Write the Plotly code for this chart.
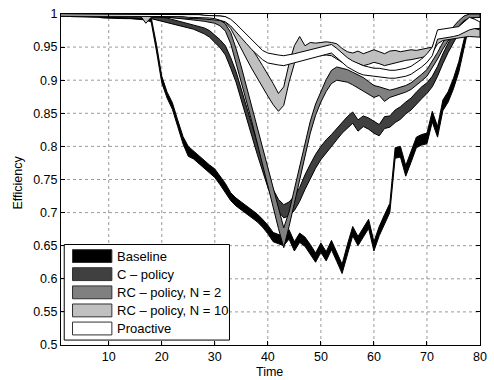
import plotly.graph_objects as go

# Time steps
time = list(range(1, 81))

# Efficiency bands (lower / upper bound) per policy
baseline_lo = [0.997, 0.997, 0.996, 0.996, 0.996, 0.995, 0.995, 0.995, 0.994, 0.994,
               0.994, 0.993, 0.993, 0.993, 0.992, 0.992, 0.991, 0.988, 0.944, 0.896,
               0.873, 0.856, 0.830, 0.804, 0.785, 0.781, 0.773, 0.766, 0.760, 0.753,
               0.742, 0.731, 0.718, 0.710, 0.704, 0.698, 0.692, 0.686, 0.678, 0.668,
               0.656, 0.653, 0.650, 0.660, 0.642, 0.655, 0.649, 0.638, 0.625, 0.640,
               0.627, 0.644, 0.626, 0.608, 0.638, 0.665, 0.650, 0.663, 0.676, 0.642,
               0.665, 0.683, 0.700, 0.782, 0.784, 0.755, 0.776, 0.798, 0.802, 0.804,
               0.837, 0.814, 0.854, 0.867, 0.887, 0.912, 0.948, 0.985, 0.995, 0.995]
baseline_hi = [1.000, 1.000, 0.999, 0.999, 0.999, 0.999, 0.998, 0.998, 0.998, 0.998,
               0.997, 0.997, 0.997, 0.997, 0.996, 0.996, 0.996, 0.995, 0.954, 0.906,
               0.882, 0.866, 0.840, 0.815, 0.800, 0.793, 0.785, 0.778, 0.772, 0.766,
               0.755, 0.744, 0.730, 0.722, 0.716, 0.710, 0.704, 0.698, 0.690, 0.681,
               0.670, 0.667, 0.664, 0.674, 0.656, 0.669, 0.663, 0.652, 0.639, 0.654,
               0.641, 0.658, 0.640, 0.622, 0.652, 0.679, 0.664, 0.677, 0.690, 0.656,
               0.679, 0.697, 0.714, 0.798, 0.800, 0.771, 0.792, 0.814, 0.818, 0.820,
               0.853, 0.830, 0.870, 0.883, 0.903, 0.928, 0.962, 0.995, 1.000, 1.000]

c_policy_lo = [0.997, 0.997, 0.997, 0.997, 0.996, 0.996, 0.996, 0.996, 0.995, 0.995,
               0.995, 0.995, 0.994, 0.994, 0.994, 0.994, 0.993, 0.993, 0.992, 0.990,
               0.988, 0.985, 0.983, 0.981, 0.979, 0.977, 0.974, 0.970, 0.965, 0.957,
               0.949, 0.938, 0.918, 0.897, 0.870, 0.843, 0.815, 0.788, 0.762, 0.738,
               0.718, 0.702, 0.692, 0.695, 0.703, 0.717, 0.735, 0.752, 0.767, 0.780,
               0.790, 0.800, 0.810, 0.820, 0.828, 0.835, 0.823, 0.830, 0.826, 0.820,
               0.816, 0.827, 0.829, 0.836, 0.841, 0.849, 0.855, 0.864, 0.872, 0.880,
               0.890, 0.906, 0.925, 0.942, 0.957, 0.971, 0.985, 0.994, 0.996, 0.996]
c_policy_hi = [1.000, 1.000, 1.000, 1.000, 1.000, 1.000, 0.999, 0.999, 0.999, 0.999,
               0.999, 0.999, 0.999, 0.998, 0.998, 0.998, 0.998, 0.998, 0.997, 0.996,
               0.994, 0.991, 0.989, 0.987, 0.985, 0.984, 0.982, 0.979, 0.975, 0.968,
               0.961, 0.952, 0.934, 0.913, 0.886, 0.860, 0.832, 0.805, 0.779, 0.755,
               0.735, 0.720, 0.712, 0.716, 0.725, 0.738, 0.757, 0.773, 0.788, 0.800,
               0.810, 0.818, 0.827, 0.835, 0.845, 0.852, 0.840, 0.846, 0.843, 0.838,
               0.833, 0.845, 0.846, 0.855, 0.860, 0.867, 0.873, 0.882, 0.890, 0.896,
               0.906, 0.921, 0.940, 0.956, 0.970, 0.983, 0.995, 1.000, 1.000, 1.000]

rc2_lo = [0.998, 0.998, 0.998, 0.998, 0.998, 0.998, 0.998, 0.998, 0.998, 0.998,
          0.997, 0.997, 0.997, 0.997, 0.997, 0.997, 0.997, 0.997, 0.997, 0.997,
          0.996, 0.995, 0.994, 0.993, 0.992, 0.991, 0.990, 0.989, 0.988, 0.986,
          0.982, 0.974, 0.955, 0.927, 0.897, 0.867, 0.837, 0.807, 0.776, 0.742,
          0.708, 0.676, 0.647, 0.679, 0.714, 0.750, 0.786, 0.820, 0.847, 0.867,
          0.883, 0.895, 0.900, 0.899, 0.897, 0.893, 0.889, 0.884, 0.879, 0.874,
          0.877, 0.868, 0.874, 0.877, 0.879, 0.882, 0.886, 0.892, 0.899, 0.906,
          0.918, 0.932, 0.947, 0.960, 0.972, 0.982, 0.990, 0.994, 0.995, 0.995]
rc2_hi = [1.000, 1.000, 1.000, 1.000, 1.000, 1.000, 1.000, 1.000, 1.000, 1.000,
          1.000, 1.000, 1.000, 1.000, 1.000, 1.000, 1.000, 1.000, 1.000, 1.000,
          1.000, 0.999, 0.999, 0.998, 0.998, 0.997, 0.997, 0.996, 0.995, 0.994,
          0.991, 0.985, 0.972, 0.948, 0.920, 0.890, 0.860, 0.831, 0.801, 0.770,
          0.740, 0.708, 0.677, 0.701, 0.735, 0.770, 0.805, 0.838, 0.864, 0.884,
          0.901, 0.915, 0.920, 0.918, 0.916, 0.912, 0.908, 0.904, 0.898, 0.892,
          0.890, 0.887, 0.885, 0.887, 0.889, 0.892, 0.896, 0.902, 0.909, 0.916,
          0.928, 0.942, 0.957, 0.970, 0.981, 0.990, 0.997, 1.000, 1.000, 1.000]

rc10_lo = [0.997, 0.997, 0.997, 0.997, 0.997, 0.997, 0.997, 0.997, 0.997, 0.997,
           0.997, 0.997, 0.997, 0.997, 0.997, 0.997, 0.986, 0.995, 0.995, 0.995,
           0.995, 0.995, 0.994, 0.994, 0.994, 0.993, 0.993, 0.992, 0.992, 0.991,
           0.990, 0.987, 0.978, 0.964, 0.948, 0.932, 0.917, 0.902, 0.889, 0.876,
           0.863, 0.853, 0.862, 0.897, 0.925, 0.937, 0.935, 0.936, 0.937, 0.938,
           0.938, 0.937, 0.932, 0.927, 0.925, 0.923, 0.925, 0.922, 0.924, 0.927,
           0.925, 0.922, 0.925, 0.927, 0.928, 0.930, 0.931, 0.932, 0.934, 0.936,
           0.941, 0.955, 0.960, 0.962, 0.963, 0.964, 0.965, 0.966, 0.966, 0.965]
rc10_hi = [1.000, 1.000, 1.000, 1.000, 1.000, 1.000, 1.000, 1.000, 1.000, 1.000,
           1.000, 1.000, 1.000, 1.000, 1.000, 1.000, 0.998, 1.000, 1.000, 1.000,
           1.000, 1.000, 0.999, 0.999, 0.999, 0.999, 0.999, 0.998, 0.998, 0.998,
           0.997, 0.996, 0.990, 0.982, 0.972, 0.960, 0.948, 0.935, 0.922, 0.909,
           0.895, 0.880, 0.890, 0.925, 0.952, 0.966, 0.952, 0.957, 0.956, 0.957,
           0.958, 0.957, 0.955, 0.948, 0.943, 0.941, 0.944, 0.940, 0.943, 0.946,
           0.943, 0.940, 0.944, 0.945, 0.943, 0.945, 0.946, 0.945, 0.947, 0.948,
           0.950, 0.970, 0.973, 0.975, 0.976, 0.978, 0.980, 0.980, 0.978, 0.976]

proactive_lo = [0.997, 0.997, 0.997, 0.997, 0.997, 0.997, 0.997, 0.997, 0.997, 0.997,
                0.997, 0.997, 0.997, 0.997, 0.997, 0.997, 0.997, 0.997, 0.997, 0.997,
                0.996, 0.996, 0.996, 0.996, 0.995, 0.995, 0.995, 0.994, 0.994, 0.993,
                0.991, 0.988, 0.982, 0.973, 0.964, 0.955, 0.946, 0.938, 0.931, 0.926,
                0.924, 0.923, 0.922, 0.924, 0.927, 0.929, 0.931, 0.933, 0.935, 0.937,
                0.939, 0.941, 0.934, 0.927, 0.920, 0.915, 0.911, 0.908, 0.906, 0.905,
                0.905, 0.904, 0.903, 0.903, 0.904, 0.906, 0.909, 0.914, 0.920, 0.927,
                0.937, 0.962, 0.964, 0.965, 0.966, 0.968, 0.972, 0.976, 0.978, 0.978]
proactive_hi = [1.000, 1.000, 1.000, 1.000, 1.000, 1.000, 1.000, 1.000, 1.000, 1.000,
                1.000, 1.000, 1.000, 1.000, 1.000, 1.000, 1.000, 1.000, 1.000, 1.000,
                0.999, 0.999, 0.999, 0.999, 0.999, 0.999, 0.999, 0.998, 0.998, 0.998,
                0.997, 0.996, 0.992, 0.985, 0.977, 0.969, 0.960, 0.952, 0.945, 0.941,
                0.939, 0.938, 0.937, 0.938, 0.940, 0.942, 0.944, 0.946, 0.948, 0.950,
                0.952, 0.954, 0.948, 0.941, 0.934, 0.929, 0.925, 0.922, 0.920, 0.918,
                0.918, 0.916, 0.915, 0.915, 0.916, 0.918, 0.921, 0.926, 0.932, 0.940,
                0.950, 0.976, 0.977, 0.978, 0.979, 0.981, 0.988, 0.995, 0.992, 0.988]

series_names = ["Baseline", "C \u2013 policy", "RC \u2013 policy, N = 2",
                "RC \u2013 policy, N = 10", "Proactive"]
series_colors = ["#000000", "#404040", "#808080", "#c0c0c0", "#ffffff"]
bands = [(baseline_lo, baseline_hi), (c_policy_lo, c_policy_hi),
         (rc2_lo, rc2_hi), (rc10_lo, rc10_hi), (proactive_lo, proactive_hi)]

x_ticks = [10, 20, 30, 40, 50, 60, 70, 80]
y_ticks = [0.5, 0.55, 0.6, 0.65, 0.7, 0.75, 0.8, 0.85, 0.9, 0.95, 1.0]
y_ticktext = ["0.5", "0.55", "0.6", "0.65", "0.7", "0.75", "0.8", "0.85", "0.9", "0.95", "1"]

FONT = "Liberation Sans, Arial, Helvetica, sans-serif"
GRID = dict(color="#9a9a9a", width=1, dash="dot")

fig = go.Figure()
for name, color, (lo, hi) in zip(series_names, series_colors, bands):
    fig.add_trace(go.Scatter(
        x=time + time[::-1],
        y=hi + lo[::-1],
        mode="lines",
        fill="toself",
        fillcolor=color,
        line=dict(color="black", width=1),
        name=name,
        showlegend=False,
        hoverinfo="skip",
    ))

axis_common = dict(
    showline=True, linecolor="black", linewidth=1, mirror="ticks",
    ticks="inside", ticklen=4, tickcolor="black", tickwidth=1,
    showgrid=False, zeroline=False,
    tickfont=dict(family=FONT, size=12.5, color="black"),
)

fig.update_xaxes(range=[1, 80], tickvals=x_ticks, **axis_common)
fig.update_yaxes(range=[0.5, 1.0], tickvals=y_ticks, ticktext=y_ticktext, **axis_common)

shapes = []
# Dotted grid under the bands, at the tick positions
for xv in x_ticks[:-1]:
    shapes.append(dict(type="line", xref="x", yref="paper", x0=xv, x1=xv, y0=0, y1=1,
                       line=GRID, layer="below"))
for yv in y_ticks[1:-1]:
    shapes.append(dict(type="line", xref="paper", yref="y", x0=0, x1=1, y0=yv, y1=yv,
                       line=GRID, layer="below"))

# Legend box drawn in paper coordinates
shapes.append(dict(type="rect", xref="paper", yref="paper",
                   x0=0.0077, x1=0.4021, y0=0.0149, y1=0.3036,
                   fillcolor="white", line=dict(color="black", width=1), layer="above"))
annotations = []
row_py = [255.0, 273.3, 291.7, 310.0, 328.3]
for name, color, py in zip(series_names, series_colors, row_py):
    yc = (345 - py) / 335
    h = 6.5 / 335
    shapes.append(dict(type="rect", xref="paper", yref="paper",
                       x0=0.0275, x1=0.1214, y0=yc - h, y1=yc + h,
                       fillcolor=color, line=dict(color="#303030", width=1), layer="above"))
    annotations.append(dict(text=name, xref="paper", yref="paper",
                            x=0.1291, y=yc, xanchor="left", yanchor="middle",
                            showarrow=False, font=dict(family=FONT, size=13, color="black")))

annotations.append(dict(text="Time", xref="paper", yref="paper", x=0.4977, y=-0.081,
                        xanchor="center", yanchor="middle", showarrow=False,
                        font=dict(family=FONT, size=12.5, color="black")))
annotations.append(dict(text="Efficiency", xref="paper", yref="paper", x=-0.1033, y=0.49,
                        xanchor="center", yanchor="middle", textangle=-90, showarrow=False,
                        font=dict(family=FONT, size=12.5, color="black")))

fig.update_layout(
    width=494, height=380,
    margin=dict(l=61, r=7, t=10, b=35),
    paper_bgcolor="white", plot_bgcolor="white",
    shapes=shapes, annotations=annotations,
    showlegend=False,
)

fig.write_html("out.html")
